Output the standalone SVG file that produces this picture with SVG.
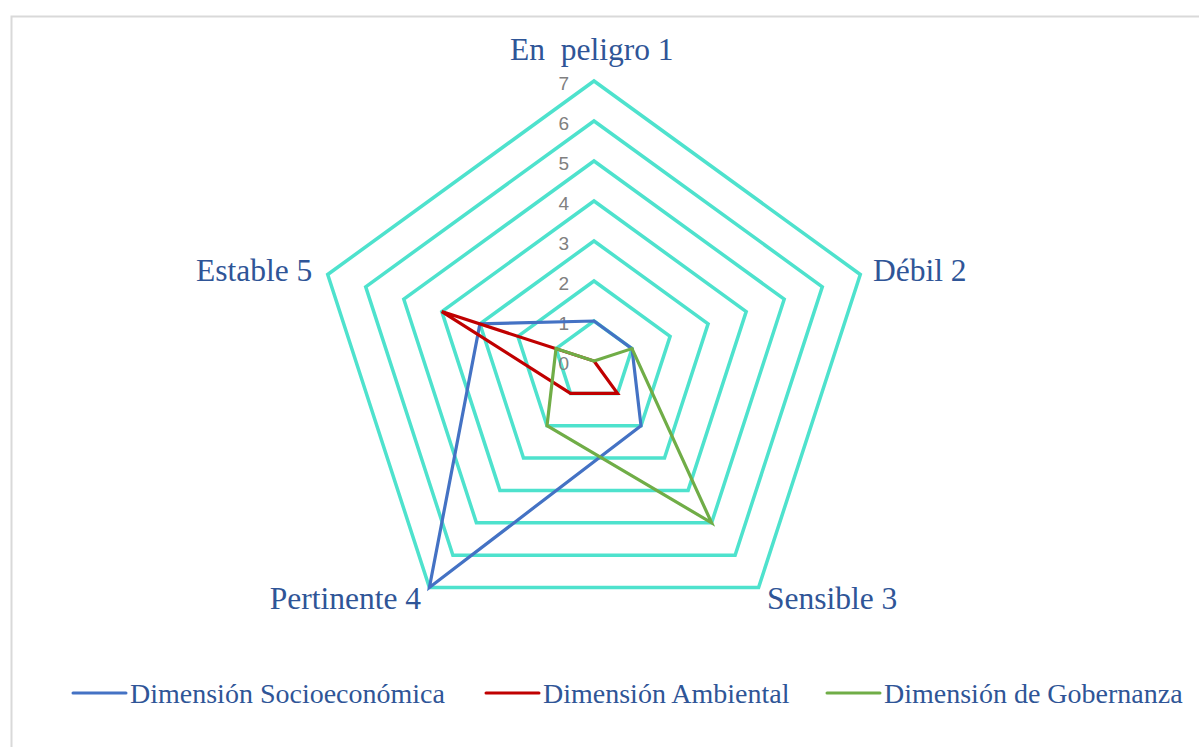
<svg xmlns="http://www.w3.org/2000/svg" width="1199" height="747" viewBox="0 0 1199 747">
<style>
.ring{fill:none;stroke:#4EE2CD;stroke-width:3.5;stroke-linejoin:miter}
.ser{fill:none;stroke-width:3.2;stroke-linejoin:miter}
.ax{font-family:"Liberation Serif","Times New Roman",serif;font-size:31.5px;fill:#2F5597;white-space:pre}
.lg{font-family:"Liberation Serif","Times New Roman",serif;font-size:28px;fill:#2F5597}
.tk{font-family:"Liberation Sans",Arial,sans-serif;font-size:19px;fill:#808080;text-anchor:end}
</style>
<rect x="0" y="0" width="1199" height="747" fill="#ffffff"/>
<rect x="11.5" y="16.5" width="1200" height="740" fill="none" stroke="#D9D9D9" stroke-width="2"/>
<g id="grid">
<polygon class="ring" points="594,321 632,348.6 617.5,393.4 570.5,393.4 556,348.6"/>
<polygon class="ring" points="594,281 670.1,336.3 641,425.7 547,425.7 517.9,336.3"/>
<polygon class="ring" points="594,241 708.1,323.9 664.5,458.1 523.5,458.1 479.9,323.9"/>
<polygon class="ring" points="594,201 746.2,311.6 688.1,490.4 499.9,490.4 441.8,311.6"/>
<polygon class="ring" points="594,161 784.2,299.2 711.6,522.8 476.4,522.8 403.8,299.2"/>
<polygon class="ring" points="594,121 822.3,286.8 735.1,555.2 452.9,555.2 365.7,286.8"/>
<polygon class="ring" points="594,81 860.3,274.5 758.6,587.5 429.4,587.5 327.7,274.5"/>
</g>
<g id="ticks">
<text class="tk" x="569" y="370">0</text>
<text class="tk" x="569" y="330">1</text>
<text class="tk" x="569" y="290">2</text>
<text class="tk" x="569" y="250">3</text>
<text class="tk" x="569" y="210">4</text>
<text class="tk" x="569" y="170">5</text>
<text class="tk" x="569" y="130">6</text>
<text class="tk" x="569" y="90">7</text>
</g>
<g id="connectors">
<polygon id="socioeconomica" class="ser" stroke="#4472C4" points="594,321 632,348.6 641,425.7 429.4,587.5 479.9,323.9"/>
<polygon id="ambiental" class="ser" stroke="#C00000" points="594,361 594,361 617.5,393.4 570.5,393.4 441.8,311.6"/>
<polygon id="gobernanza" class="ser" stroke="#70AD47" points="594,361 632,348.6 711.6,522.8 547,425.7 556,348.6"/>
</g>
<g id="axis-labels">
<text id="lbl1" class="ax" x="510" y="60">En  peligro 1</text>
<text id="lbl2" class="ax" x="873" y="281">Débil 2</text>
<text id="lbl3" class="ax" x="767" y="609">Sensible 3</text>
<text id="lbl4" class="ax" x="421" y="609" text-anchor="end">Pertinente 4</text>
<text id="lbl5" class="ax" x="196" y="281">Estable 5</text>
</g>
<g id="legend">
<line x1="73" y1="693" x2="126" y2="693" stroke="#4472C4" stroke-width="3" stroke-linecap="round"/>
<text class="lg" x="130" y="703">Dimensión Socioeconómica</text>
<line x1="486" y1="693" x2="539" y2="693" stroke="#C00000" stroke-width="3" stroke-linecap="round"/>
<text class="lg" x="543" y="703">Dimensión Ambiental</text>
<line x1="827" y1="693" x2="880" y2="693" stroke="#70AD47" stroke-width="3" stroke-linecap="round"/>
<text class="lg" x="884" y="703">Dimensión de Gobernanza</text>
</g>
</svg>
